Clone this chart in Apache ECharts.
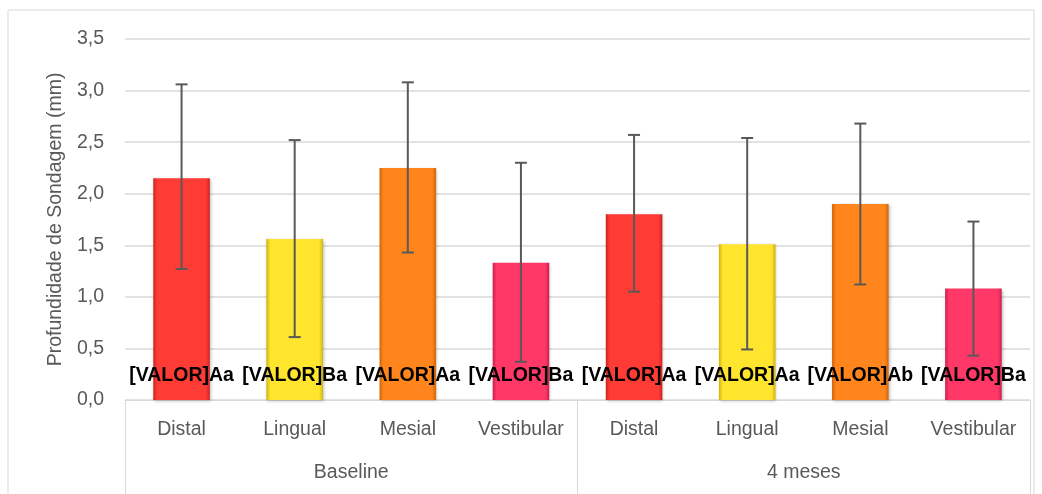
<!DOCTYPE html>
<html>
<head>
<meta charset="utf-8">
<script src="https://cdn.jsdelivr.net/npm/echarts@6/dist/echarts.min.js"></script>
<style>
  html, body { margin: 0; padding: 0; background: #fff; }
  #chart-container { width: 1042px; height: 494px; }
</style>
</head>
<body>
<div id="chart-container"></div>
<script>
var dom = document.getElementById("chart-container");
var myChart = echarts.init(dom, null, { renderer: "canvas" });

const categories = ["Distal", "Lingual", "Mesial", "Vestibular", "Distal", "Lingual", "Mesial", "Vestibular"];
const groups = ["Baseline", "4 meses"];
const means = [2.15, 1.56, 2.25, 1.33, 1.80, 1.51, 1.90, 1.08];
const errLow = [1.27, 0.61, 1.43, 0.37, 1.05, 0.49, 1.12, 0.43];
const errHigh = [3.06, 2.52, 3.08, 2.30, 2.57, 2.54, 2.68, 1.73];
const letters = ["Aa", "Ba", "Aa", "Ba", "Aa", "Aa", "Ab", "Ba"];

// cores por face (base, borda escura)
const palette = [
  ["#FF3B36", "#C92520"],
  ["#FFE52E", "#CFB50E"],
  ["#FF851C", "#D0650A"],
  ["#FF3868", "#CC1F4B"],
];

const FONT = "'Liberation Sans', Arial, sans-serif";

function bevel(c) {
  return new echarts.graphic.LinearGradient(0, 0, 1, 0, [
    { offset: 0, color: c[1] },
    { offset: 0.07, color: c[0] },
    { offset: 0.93, color: c[0] },
    { offset: 1, color: c[1] },
  ]);
}

const barData = means.map((v, i) => ({
  value: v,
  itemStyle: { color: bevel(palette[i % 4]) },
}));

const errData = means.map((v, i) => [i, errLow[i], errHigh[i]]);

var option = {
  animation: false,
  textStyle: { fontFamily: FONT },
  graphic: [
    {
      type: "rect",
      shape: { x: 8, y: 10, width: 1026, height: 500 },
      style: { fill: "none", stroke: "#d9d9d9", lineWidth: 1 },
      silent: true,
    },
  ],
  grid: { left: 125, right: 12, top: 39, bottom: 94 },
  xAxis: [
    {
      type: "category",
      data: categories,
      axisLine: { lineStyle: { color: "#d9d9d9", width: 1 } },
      axisTick: { show: false },
      axisLabel: { color: "#595959", fontSize: 19.5, fontFamily: FONT, margin: 20, interval: 0 },
    },
    {
      type: "category",
      data: groups,
      position: "bottom",
      axisLine: { show: false },
      axisTick: { show: true, length: 94, lineStyle: { color: "#d9d9d9" } },
      axisLabel: { color: "#595959", fontSize: 19.5, fontFamily: FONT, margin: 63 },
    },
  ],
  yAxis: {
    type: "value",
    min: 0,
    max: 3.5,
    interval: 0.5,
    name: "Profundidade de Sondagem (mm)",
    nameLocation: "middle",
    nameGap: 56,
    nameTextStyle: { color: "#595959", fontSize: 19.5, fontFamily: FONT },
    axisLine: { show: false },
    axisTick: { show: false },
    axisLabel: {
      color: "#595959",
      fontSize: 19.5,
      fontFamily: FONT,
      margin: 21,
      formatter: (v) => v.toFixed(1).replace(".", ","),
    },
    splitLine: { lineStyle: { color: "#d9d9d9", width: 1.5 } },
  },
  series: [
    {
      type: "bar",
      xAxisIndex: 0,
      data: barData,
      barWidth: "50%",
      itemStyle: {
        shadowColor: "rgba(0,0,0,0.25)",
        shadowBlur: 3,
        shadowOffsetX: 1,
        shadowOffsetY: 1,
      },
      label: {
        show: true,
        position: ["50%", "100%"],
        offset: [0, -14],
        align: "center",
        verticalAlign: "bottom",
        overflow: "none",
        color: "#000",
        fontWeight: "bold",
        fontSize: 19.5,
        fontFamily: FONT,
        formatter: (p) => "[VALOR]" + letters[p.dataIndex],
      },
      z: 2,
    },
    {
      type: "custom",
      xAxisIndex: 0,
      data: errData,
      encode: { x: 0, y: [1, 2] },
      z: 3,
      renderItem: function (params, api) {
        const x = api.value(0);
        const lo = api.coord([x, api.value(1)]);
        const hi = api.coord([x, api.value(2)]);
        const w = 6;
        const st = { stroke: "#595959", lineWidth: 2 };
        return {
          type: "group",
          children: [
            { type: "line", shape: { x1: lo[0], y1: lo[1], x2: hi[0], y2: hi[1] }, style: st },
            { type: "line", shape: { x1: lo[0] - w, y1: lo[1], x2: lo[0] + w, y2: lo[1] }, style: st },
            { type: "line", shape: { x1: hi[0] - w, y1: hi[1], x2: hi[0] + w, y2: hi[1] }, style: st },
          ],
        };
      },
    },
  ],
};

myChart.setOption(option);
window.addEventListener("resize", myChart.resize);
</script>
</body>
</html>
